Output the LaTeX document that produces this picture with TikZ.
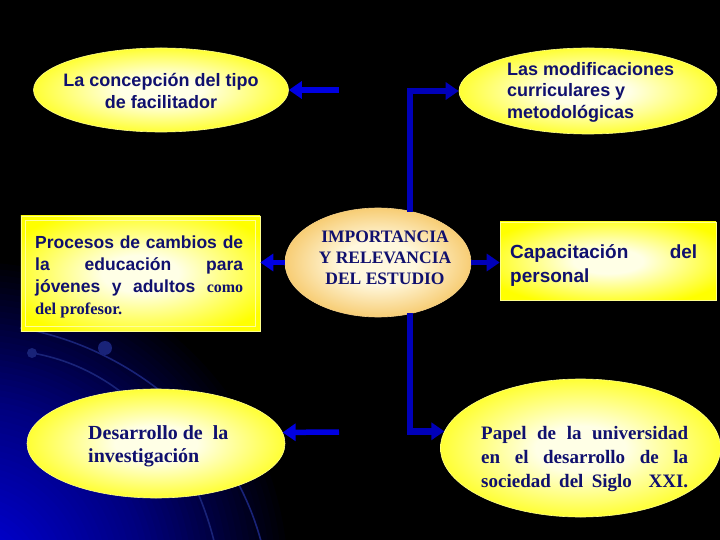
\documentclass[tikz,border=0pt]{standalone}
\usepackage{fontspec}
\setmainfont{Liberation Serif}
\setsansfont{Liberation Sans}
\usetikzlibrary{shapes.geometric,arrows.meta,calc}
\definecolor{navy}{RGB}{16,16,110}
\definecolor{arrblue}{RGB}{0,0,225}
\definecolor{arrdark}{RGB}{0,0,185}
\definecolor{ylw}{RGB}{255,255,0}
\definecolor{ylwpale}{RGB}{255,255,230}
\definecolor{orng}{RGB}{243,182,60}
\definecolor{cream}{RGB}{255,248,222}
\definecolor{decor}{RGB}{25,35,120}
\pgfdeclareradialshading{yglow}{\pgfpoint{0bp}{0bp}}{color(0bp)=(ylwpale); color(8bp)=(ylwpale); color(30bp)=(ylw); color(50bp)=(ylw)}
\pgfdeclareradialshading{oglow}{\pgfpoint{0bp}{0bp}}{color(0bp)=(cream); color(10bp)=(cream); color(33bp)=(orng); color(50bp)=(orng)}
\tikzset{
  yell/.style={ellipse, inner sep=0pt, shading=yglow, draw=ylw!45!white, line width=0.6bp},
  ybox/.style={rectangle, inner sep=0pt, shading=yglow, draw=ylw!45!white, line width=0.6bp},
  sfb/.style={text=navy, inner sep=0pt, font=\sffamily\bfseries\fontsize{18bp}{21.5bp}\selectfont},
  rmb/.style={text=navy, inner sep=0pt, font=\rmfamily\bfseries\fontsize{19bp}{24bp}\selectfont},
  arr/.style={line width=5.5bp, arrblue, -{Triangle[length=13bp,width=17bp]}},
  arrv/.style={line width=6.5bp, arrdark, line join=miter, -{Triangle[length=13bp,width=17bp]}},
  decoline/.style={decor, line width=1.6bp}
}
\begin{document}
\begin{tikzpicture}[x=1bp,y=-1bp]
\useasboundingbox (0,0) rectangle (720,540);
% background
\fill[black] (0,0) rectangle (720,540);
\begin{scope}
  \clip (0,0) rectangle (720,540);
  \foreach \r in {330,324,...,6} {
    \pgfmathtruncatemacro\bv{max(0,min(200,200-0.577*(\r-50),125-0.857*(\r-180),65-0.867*(\r-250)))}
    \definecolor{bgtmp}{RGB}{0,0,\bv}
    \fill[bgtmp] (-30,580) circle (\r);
  }
  \draw[decoline] (20,328) .. controls (120,345) and (230,420) .. (262,545);
  \draw[decoline] (32,353) .. controls (120,368) and (190,440) .. (215,545);
  \fill[decor] (32,353) circle (5);
  \fill[decor] (105,348) circle (7);
\end{scope}

% shapes
\node[yell, minimum width=255bp, minimum height=84bp] (conc) at (161,90) {};
\node[yell, minimum width=258bp, minimum height=86bp] (mod) at (588,91) {};
\node[ybox, minimum width=239bp, minimum height=115bp] (proc) at (140.5,273.5) {};
\draw[ylw!40!white, line width=0.6bp] ($(proc.north west)+(5,5)$) rectangle ($(proc.south east)+(-5,-5)$);
\node[ellipse, inner sep=0pt, shading=oglow, draw=orng!60!white, line width=0.6bp, minimum width=186bp, minimum height=109bp] (imp) at (378,262.5) {};
\node[ybox, minimum width=216bp, minimum height=78bp] (cap) at (608,261) {};
\node[yell, minimum width=258bp, minimum height=109bp] (des) at (156,443.5) {};
\node[yell, minimum width=280bp, minimum height=138bp] (pap) at (580.5,448) {};

% texts
\node[sfb, align=center] (conct) at (161,91) {La concepción del tipo\\de facilitador};
\node[sfb, align=left, anchor=west] (modt) at (507,92) {Las modificaciones\\curriculares y\\metodológicas};
\node[sfb, anchor=west, align=left, font=\sffamily\bfseries\fontsize{17.5bp}{22bp}\selectfont] (proct) at (35,277)
  {\hbox to 208bp{Procesos\hfill de\hfill cambios\hfill de}\\
   \hbox to 208bp{la\hfill educación\hfill para}\\
   \hbox to 208bp{jóvenes\hfill y\hfill adultos\hfill {\rmfamily\fontsize{16bp}{16bp}\selectfont como}}\\
   {\rmfamily\fontsize{16.5bp}{22bp}\selectfont del profesor.}};
\node[rmb, align=center, font=\rmfamily\bfseries\fontsize{17.5bp}{21bp}\selectfont] (impt) at (385,258) {IMPORTANCIA\\Y RELEVANCIA\\DEL ESTUDIO};
\node[sfb, anchor=west, align=left, font=\sffamily\bfseries\fontsize{19bp}{24bp}\selectfont] (capt) at (510,266)
  {\hbox to 187bp{Capacitación\hfill del}\\personal};
\node[rmb, align=left, anchor=west, font=\rmfamily\bfseries\fontsize{20bp}{23bp}\selectfont] (dest) at (88,446) {Desarrollo de\ \ la\\investigación};
\node[rmb, anchor=west, align=left] (papt) at (481,459)
  {\hbox to 207bp{Papel\hfill de\hfill la\hfill universidad}\\
   \hbox to 207bp{en\hfill el\hfill desarrollo\hfill de\hfill la}\\
   \hbox to 207bp{sociedad\hfill del\hfill Siglo\hfill\hfill XXI.}};

% connectors
\coordinate (tlstart) at (339,90);
\coordinate (blstart) at (339,432);
\coordinate (topstart) at (410,212);
\coordinate (botstart) at (410,313);
\draw[arr] (tlstart) -- (conc.east);
\draw[arr] (blstart) -- (des.5);
\draw[arrv] (topstart) |- (mod.west);
\draw[arrv] (botstart) |- (pap.173);
\draw[arr] (imp.west) -- (imp.west -| proc.east);
\draw[arr, arrdark] (imp.east) -- (imp.east -| cap.west);
\end{tikzpicture}
\end{document}
